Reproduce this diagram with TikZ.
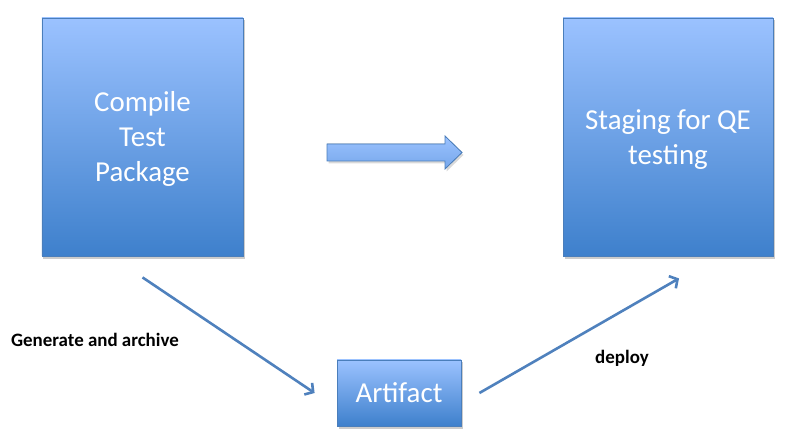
\documentclass[tikz,border=0pt]{standalone}
\usepackage{fontspec}
\setmainfont{Carlito}
\usetikzlibrary{arrows.meta, positioning, shadows}

\definecolor{boxtop}{RGB}{155,194,255}
\definecolor{boxmid}{RGB}{128,174,240}
\definecolor{boxbot}{RGB}{62,128,204}
\definecolor{boxline}{RGB}{74,126,187}
\definecolor{linkblue}{RGB}{79,129,189}

\begin{document}
\begin{tikzpicture}[x=1bp, y=-1bp,
  box/.style={rectangle, draw=boxline, line width=0.8bp, top color=boxtop, middle color=boxmid, bottom color=boxbot,
    text=white, align=center, inner sep=0pt, font=\fontsize{29}{35}\selectfont,
    drop shadow={shadow xshift=1.5bp, shadow yshift=-2.5bp, opacity=0.2, fill=black}},
  link/.style={draw=linkblue, line width=2.6bp, -{Straight Barb[length=6bp,width=14bp]}},
  linklabel/.style={font=\fontsize{19}{22}\selectfont\bfseries, text=black}]
\useasboundingbox (0,0) rectangle (788,447);

%Boxes:
\node (compile) [box, minimum width=201bp, minimum height=238bp] at (142.5,137) {\strut Compile\\Test\\Package};
\node (staging) [box, minimum width=210bp, minimum height=238bp] at (668,137) {\strut Staging for QE\\testing};
\node (artifact) [box, minimum width=124bp, minimum height=66bp] at (399,393) {Artifact};

%Block arrow:
\filldraw[draw=boxline, line width=0.8bp, top color=boxtop, bottom color=boxmid!85!boxbot,
  drop shadow={shadow xshift=1.5bp, shadow yshift=-2.5bp, opacity=0.15, fill=black}]
  (327,144) -- (445,144) -- (445,136) -- (462,152.5) -- (445,169) -- (445,161) -- (327,161) -- cycle;

%Labels:
\node (archivelabel) [linklabel] at (95,340) {Generate and archive};
\node (deploylabel) [linklabel] at (622,358) {deploy};

%Links:
\draw [link] ([yshift=-21bp]compile.south) -- ([xshift=-22bp]artifact.west);
\draw [link] ([xshift=18bp]artifact.east) -- ([xshift=11bp,yshift=-22bp]staging.south);

\end{tikzpicture}
\end{document}
